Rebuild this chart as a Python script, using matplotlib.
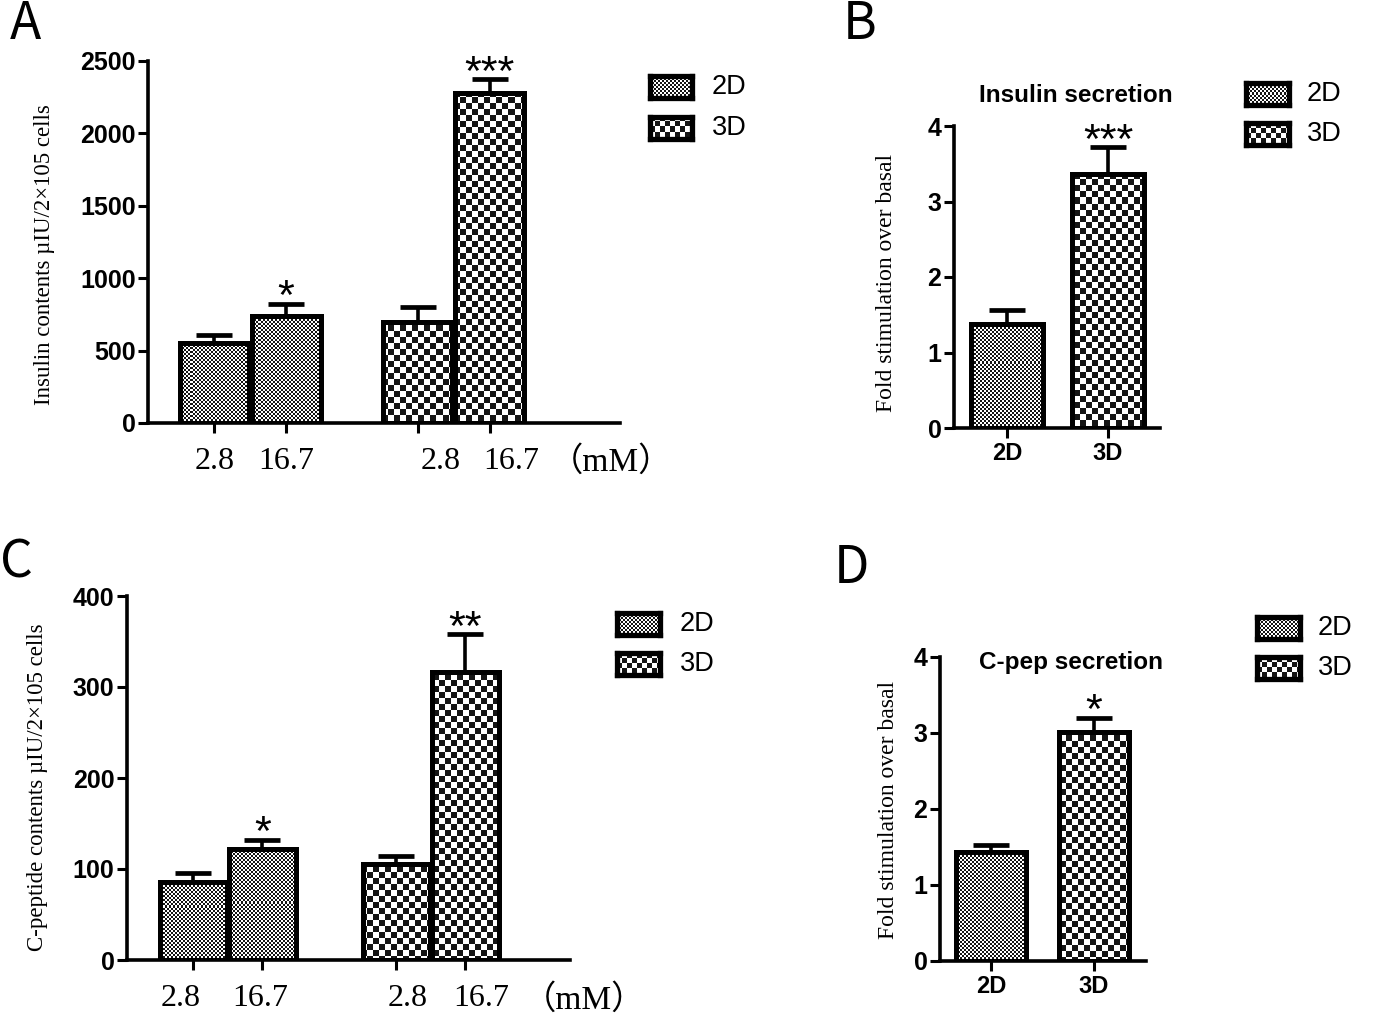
import numpy as np
import matplotlib
matplotlib.use('Agg')
import matplotlib.pyplot as plt

W, H = 1382, 1028
DPI = 100

# ---- data ----
conc_labels = ['2.8', '16.7', '2.8', '16.7']
groups = ['2D', '3D']

insulin_2d = [550, 738]        # 2.8 mM, 16.7 mM
insulin_2d_err = [57, 85]
insulin_3d = [697, 2277]
insulin_3d_err = [103, 98]
insulin_stars = ['', '*', '', '***']

ins_fold = [1.38, 3.37]        # 2D, 3D
ins_fold_err = [0.18, 0.35]
ins_fold_stars = ['', '***']

cpep_2d = [86, 122]
cpep_2d_err = [10, 10]
cpep_3d = [106, 316]
cpep_3d_err = [8, 42]
cpep_stars = ['', '*', '', '**']

cpep_fold = [1.43, 3.01]
cpep_fold_err = [0.09, 0.19]
cpep_fold_stars = ['', '*']

SERIF = 'Liberation Serif'
SANS = 'Liberation Sans'

fig = plt.figure(figsize=(W / DPI, H / DPI), dpi=DPI)
fig.patch.set_facecolor('white')


def px_axes(left, top, right, bottom):
    return fig.add_axes([left / W, 1 - bottom / H, (right - left) / W, (bottom - top) / H])


def checker(h, w, cell):
    yy, xx = np.mgrid[0:h, 0:w]
    c = ((yy // cell + xx // cell) % 2).astype(bool)
    img = np.zeros((h, w, 3))
    img[c] = 1.0
    img[~c] = 0.08
    return img


CELL = {'2D': 2, '3D': 6}


def fill_bars(ax, bars, kinds):
    # checker pattern image, clipped to each bar
    pos = ax.get_position()
    w = int(round(pos.width * W))
    h = int(round(pos.height * H))
    x0, x1 = ax.get_xlim()
    y0, y1 = ax.get_ylim()
    for b, k in zip(bars, kinds):
        im = ax.imshow(checker(h, w, CELL[k]), extent=(x0, x1, y0, y1), origin='upper',
                       interpolation='nearest', aspect='auto', zorder=2)
        im.set_clip_path(b)
    ax.set_xlim(x0, x1)
    ax.set_ylim(y0, y1)


def style_axes(ax):
    for s in ['top', 'right']:
        ax.spines[s].set_visible(False)
    for s in ['left', 'bottom']:
        ax.spines[s].set_linewidth(2.6)
    ax.set_facecolor('none')
    ax.tick_params(axis='both', direction='out', length=7, width=2.2)
    ax.tick_params(axis='y', pad=2, labelsize=18)
    for t in ax.get_yticklabels():
        t.set_fontfamily(SANS)
        t.set_fontweight('bold')


def draw_bars(ax, x, vals, errs, kinds, width, stars, star_size=31):
    bars = ax.bar(x, vals, width=width, facecolor='none', edgecolor='black',
                  linewidth=3.6, zorder=3)
    ax.errorbar(x, vals, yerr=[np.zeros(len(vals)), errs], fmt='none', ecolor='black',
                elinewidth=2.6, capsize=13, capthick=3.4, zorder=4)
    fill_bars(ax, bars, kinds)
    for xi, v, e, s in zip(x, vals, errs, stars):
        if s:
            ax.annotate(s, (xi, v + e), xytext=(0, -4), textcoords='offset points',
                        ha='center', va='baseline', fontsize=star_size, family=SANS)
    return bars


def legend_boxes(x0, x1, yc, text_x):
    for k, y in zip(groups, yc):
        lax = px_axes(x0, y - 11, x1, y + 11)
        lax.imshow(checker(22, x1 - x0, CELL[k] if k == '2D' else 5), aspect='auto',
                   interpolation='nearest')
        lax.set_xticks([])
        lax.set_yticks([])
        for s in lax.spines.values():
            s.set_linewidth(3.8)
        fig.text(text_x / W, 1 - y / H, k, ha='left', va='center', fontsize=19.5, family=SANS)


def panel_letter(x, y, s):
    fig.text(x / W, 1 - y / H, s, ha='left', va='baseline', fontsize=37,
             family=['Noto Sans CJK SC', 'DejaVu Sans'])


# ---------- Panel A ----------
axA = px_axes(148, 61, 620, 423)
xA = np.array([0, 1, 2.83, 3.83])
axA.set_xlim(-0.92, 5.64)
axA.set_ylim(0, 2500)
draw_bars(axA, xA, insulin_2d + insulin_3d, insulin_2d_err + insulin_3d_err,
          ['2D', '2D', '3D', '3D'], 0.96, insulin_stars)
axA.set_yticks(np.arange(0, 2501, 500))
axA.set_xticks(xA)
axA.set_xticklabels([])
style_axes(axA)
for xi, lab, dx in zip(xA, conc_labels, [0, 0, 0.32, 0.3]):
    axA.text(xi + dx, -0.065, lab, transform=axA.get_xaxis_transform(), ha='center',
             va='top', fontsize=23, family=SERIF)
axA.text(xA[-1] + 1.68, -0.065, '（mM）', transform=axA.get_xaxis_transform(), ha='center',
         va='top', fontsize=24, family=[SERIF, 'Noto Sans CJK SC'])
fig.text(45 / W, 1 - 255 / H, 'Insulin contents µIU/2×105 cells', rotation=90,
         ha='center', va='center', fontsize=16.5, family=SERIF)
legend_boxes(650, 692, [87, 128], 712)
panel_letter(10, 39, 'A')

# ---------- Panel B ----------
axB = px_axes(954, 126, 1160, 428)
xB = np.array([0, 1])
axB.set_xlim(-0.525, 1.515)
axB.set_ylim(0, 4)
draw_bars(axB, xB, ins_fold, ins_fold_err, groups, 0.71, ins_fold_stars)
axB.set_yticks(range(0, 5))
axB.set_xticks(xB)
axB.set_xticklabels(groups, fontsize=17, fontweight='bold', family=SANS)
style_axes(axB)
axB.tick_params(axis='x', pad=3)
fig.text(1076 / W, 1 - 95 / H, 'Insulin secretion', ha='center', va='center',
         fontsize=17.5, fontweight='bold', family=SANS)
fig.text(886 / W, 1 - 283 / H, 'Fold stimulation over basal', rotation=90,
         ha='center', va='center', fontsize=17, family=SERIF)
legend_boxes(1246, 1289, [94, 134], 1307)
panel_letter(843, 39, 'B')

# ---------- Panel C ----------
axC = px_axes(127, 596, 570, 960)
xC = np.array([0, 1, 2.94, 3.94])
axC.set_xlim(-0.96, 5.46)
axC.set_ylim(0, 400)
draw_bars(axC, xC, cpep_2d + cpep_3d, cpep_2d_err + cpep_3d_err,
          ['2D', '2D', '3D', '3D'], 0.97, cpep_stars)
axC.set_yticks(np.arange(0, 401, 100))
axC.set_xticks(xC)
axC.set_xticklabels([])
style_axes(axC)
for xi, lab, dx in zip(xC, conc_labels, [-0.18, -0.03, 0.16, 0.23]):
    axC.text(xi + dx, -0.065, lab, transform=axC.get_xaxis_transform(), ha='center',
             va='top', fontsize=23, family=SERIF)
axC.text(xC[-1] + 1.72, -0.065, '（mM）', transform=axC.get_xaxis_transform(), ha='center',
         va='top', fontsize=24, family=[SERIF, 'Noto Sans CJK SC'])
fig.text(38 / W, 1 - 787 / H, 'C-peptide contents µIU/2×105 cells', rotation=90,
         ha='center', va='center', fontsize=16.5, family=SERIF)
legend_boxes(617, 660, [624, 664], 680)
panel_letter(0, 577, 'C')

# ---------- Panel D ----------
axD = px_axes(940, 657, 1146, 961)
xD = np.array([0, 1])
axD.set_xlim(-0.50, 1.51)
axD.set_ylim(0, 4)
draw_bars(axD, xD, cpep_fold, cpep_fold_err, groups, 0.68, cpep_fold_stars)
axD.set_yticks(range(0, 5))
axD.set_xticks(xD)
axD.set_xticklabels(groups, fontsize=17, fontweight='bold', family=SANS)
style_axes(axD)
axD.tick_params(axis='x', pad=3)
fig.text(1071 / W, 1 - 663 / H, 'C-pep secretion', ha='center', va='center',
         fontsize=17.5, fontweight='bold', family=SANS)
fig.text(888 / W, 1 - 810 / H, 'Fold stimulation over basal', rotation=90,
         ha='center', va='center', fontsize=17, family=SERIF)
legend_boxes(1257, 1300, [628, 668], 1318)
panel_letter(834, 583, 'D')

fig.savefig('out.png', dpi=DPI, facecolor='white')
